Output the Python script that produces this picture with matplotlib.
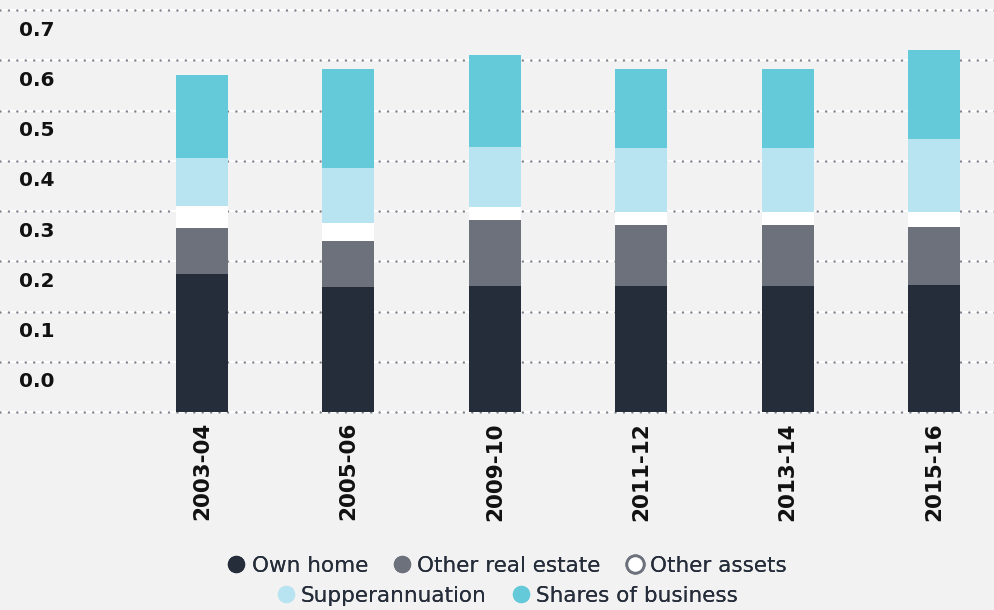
#!/usr/bin/env python3
"""
Stacked bars : composition of assets by year
"""
import matplotlib
matplotlib.use("Agg")
import matplotlib.pyplot as plt
from matplotlib.lines import Line2D

# data
categories = ["2003-04", "2005-06", "2009-10", "2011-12", "2013-14", "2015-16"]
own_home = [0.275, 0.249, 0.251, 0.251, 0.251, 0.253]
other_real_estate = [0.091, 0.091, 0.131, 0.121, 0.121, 0.115]
other_assets = [0.044, 0.036, 0.026, 0.026, 0.026, 0.030]
superannuation = [0.095, 0.110, 0.119, 0.127, 0.127, 0.145]
shares_business = [0.166, 0.197, 0.183, 0.158, 0.158, 0.177]
y_ticks = [0.0, 0.1, 0.2, 0.3, 0.4, 0.5, 0.6, 0.7, 0.8]

series = [
    ("Own home", own_home, "#262d3a"),
    ("Other real estate", other_real_estate, "#6d717c"),
    ("Other assets", other_assets, "#ffffff"),
    ("Supperannuation", superannuation, "#b8e3f0"),
    ("Shares of business", shares_business, "#64cad9"),
]

BG = "#f2f2f2"
TXT = "#262d3a"


def main():
    plt.rcParams["font.family"] = ["DejaVu Sans"]

    fig = plt.figure(figsize=(9.95, 6.1), dpi=100, facecolor=BG)
    # axes : full width, from top of figure down to y=420px
    ax = fig.add_axes([0, 1 - 420 / 610, 1, 420 / 610])
    ax.set_facecolor(BG)

    x = list(range(len(categories)))
    bottom = [0.0] * len(categories)
    for name, vals, col in series:
        ax.bar(x, vals, width=0.355, bottom=bottom, color=col,
               linewidth=0, zorder=3)
        bottom = [b + v for b, v in zip(bottom, vals)]

    # dotted gridlines : white line with grey dots on top
    for v in y_ticks:
        ax.axhline(v, color="white", lw=1.4, zorder=1)
        ax.axhline(v, color="#80848e", lw=1.8, linestyle=(0, (0.01, 3.36)),
                   dash_capstyle="round", zorder=2)
        if v < 0.75:
            ax.text(19 / 995, v + 0.06, f"{v:.1f}", transform=ax.get_yaxis_transform(),
                    ha="left", va="center", fontsize=14.5, fontweight="bold",
                    color="#111111")

    ax.set_xlim(-1.38, 5.417)
    ax.set_ylim(-8 / 502.5, 0.82)
    ax.set_yticks([])
    ax.set_xticks(x)
    ax.set_xticklabels(categories, rotation=90, fontsize=15.5, fontweight="bold",
                       color="#111111")
    ax.tick_params(axis="x", length=0, pad=1.5)
    for s in ax.spines.values():
        s.set_visible(False)

    def handle(name, col):
        edge = "#6d717c" if col == "#ffffff" else col
        return Line2D([], [], marker="o", linestyle="none", markersize=12.5,
                      markerfacecolor=col, markeredgecolor=edge,
                      markeredgewidth=2 if col == "#ffffff" else 0, label=name)

    rows = [series[:3], series[3:]]
    ys = [566, 596]
    for row, yy in zip(rows, ys):
        hs = [handle(n, c) for n, _, c in row]
        leg = fig.legend(handles=hs, loc="center", bbox_to_anchor=(0.51, 1 - yy / 610),
                         ncol=len(hs), frameon=False, fontsize=15.5,
                         handlelength=0.8, handletextpad=0.3, columnspacing=1.2,
                         borderpad=0, borderaxespad=0)
        for t in leg.get_texts():
            t.set_color(TXT)
        fig.add_artist(leg)

    fig.savefig("out.png", dpi=100, facecolor=BG)


if __name__ == "__main__":
    main()
